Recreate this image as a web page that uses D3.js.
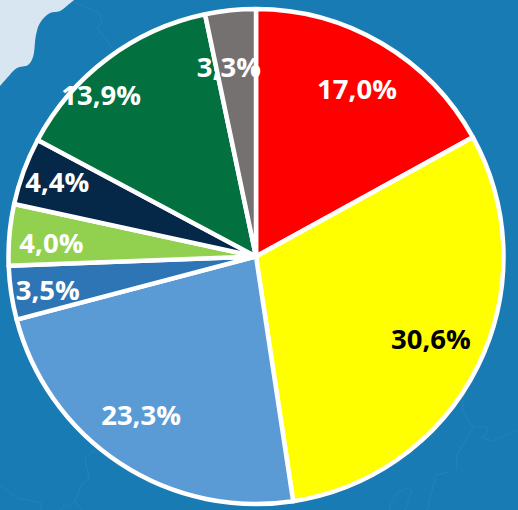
<!DOCTYPE html>
<html><head><meta charset="utf-8">
<script src="https://cdnjs.cloudflare.com/ajax/libs/d3/7.8.5/d3.min.js"></script>
<style>html,body{margin:0;padding:0;background:#197bb3;overflow:hidden}svg{display:block}</style>
</head><body><svg id="c" width="518" height="510"></svg>
<script>
const categories = ["A","B","C","D","E","F","G","H"];
const shares = [17.0,30.6,23.3,3.5,4.0,4.4,13.9,3.3];
const labels = ["17,0%","30,6%","23,3%","3,5%","4,0%","4,4%","13,9%","3,3%"];
const sliceColors = ["#ff0000","#ffff00","#5b9bd5","#2e75b6","#92d050","#062848","#02703f","#767171"];
const labelColors = ["#fff","#000","#fff","#fff","#fff","#fff","#fff","#fff"];
const labelRadius = [195,194,197,211,205,212,223,190];
const labelAngleDeg = [31.2,115.6,215.7,260.7,273.6,290.4,316,351.8];

const svg = d3.select("#c");
const cx = 256, cy = 256.5, R = 247.5;

// background map
svg.append("rect").attr("width",518).attr("height",510).attr("fill","#197bb3");
const smooth = d3.line().curve(d3.curveCatmullRom);
const land = [[74,0],[68,5],[60,11],[50,13],[40,23],[36,35],[33,57],[28,65],[17,68],[7,78],[0,86]];
svg.append("path").attr("d",smooth(land)+"L0,0Z").attr("fill","#d7e6f0");
const borders = [
 [[73,2],[99,13],[102,23],[97,27],[112,48]],
 [[0,485],[17,498],[41,503],[41,510]],
 [[60,510],[75,501],[82,510]],
 [[75,501],[82,484],[89,479],[85,457],[100,448]],
 [[462,401],[463,412],[473,427],[487,427],[488,431],[482,438],[492,441],[518,430]],
 [[473,427],[457,455],[456,470]],
 [[390,510],[390,506],[396,494],[407,488],[412,491],[405,510]],
 [[427,510],[436,475],[448,472]]
];
svg.append("g").selectAll("path").data(borders).join("path")
  .attr("d",d3.line()).attr("fill","none").attr("stroke","#4f9dca").attr("stroke-width",0.4).attr("stroke-opacity",0.55);

// pie
const pie = d3.pie().sort(null).value(d=>d)(shares);
const arc = d3.arc().innerRadius(0).outerRadius(R);
const g = svg.append("g").attr("transform",`translate(${cx},${cy})`);
g.selectAll("path").data(pie).join("path")
  .attr("d",arc)
  .attr("fill",(d,i)=>sliceColors[i])
  .attr("stroke","#fff").attr("stroke-width",4.5).attr("stroke-linejoin","round");

g.selectAll("text").data(pie).join("text")
  .attr("transform",(d,i)=>{
    const a = labelAngleDeg[i]*Math.PI/180, r = labelRadius[i];
    return `translate(${r*Math.sin(a)},${-r*Math.cos(a)-1.5})`;
  })
  .attr("text-anchor","middle").attr("dominant-baseline","central")
  .attr("font-family","'Open Sans', sans-serif").attr("font-weight",700).attr("font-size",27.5)
  .attr("fill",(d,i)=>labelColors[i])
  .text((d,i)=>labels[i]);
</script></body></html>
